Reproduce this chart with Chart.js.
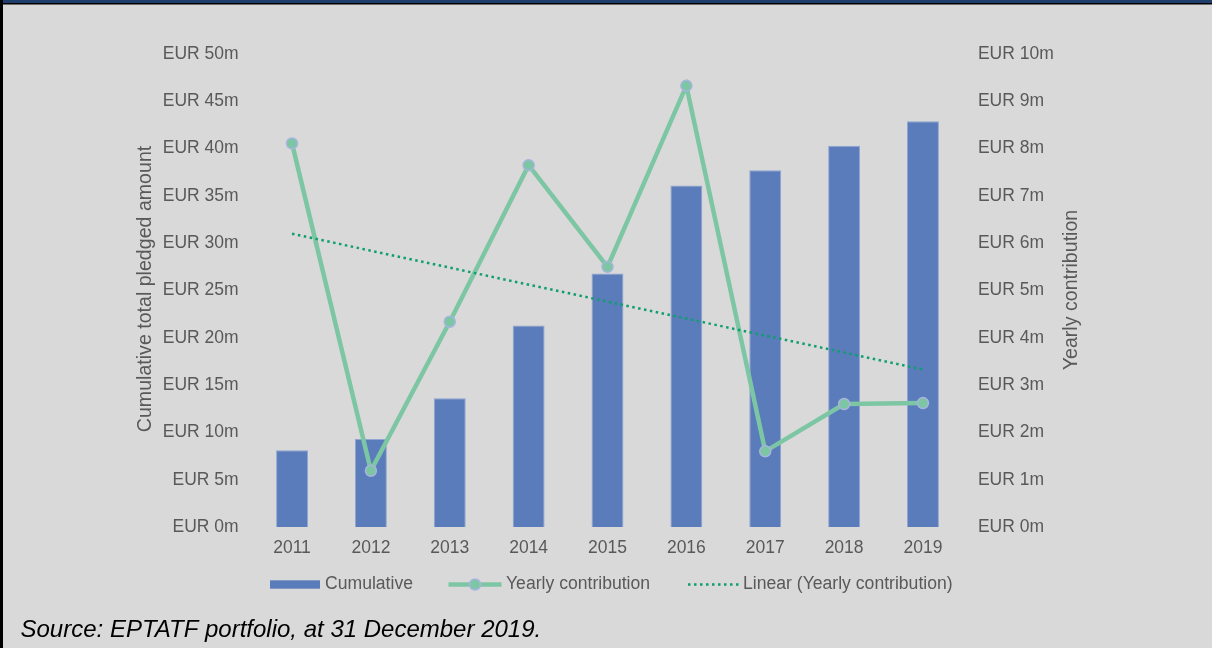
<!DOCTYPE html>
<html>
<head>
<meta charset="utf-8">
<script src="https://cdn.jsdelivr.net/npm/chart.js@4.4.1/dist/chart.umd.min.js"></script>
<style>
  html, body { margin: 0; padding: 0; background: #d9d9d9; overflow: hidden; }
  canvas { display: block; }
</style>
</head>
<body>
<canvas id="chart" width="1212" height="648"></canvas>
<script>
// Pledges to the fund, EUR millions
const years = ['2011', '2012', '2013', '2014', '2015', '2016', '2017', '2018', '2019'];
const cumulative = [8.1, 9.3, 13.6, 21.3, 26.8, 36.1, 37.7, 40.3, 42.9];
const yearly = [8.11, 1.19, 4.34, 7.65, 5.50, 9.33, 1.60, 2.60, 2.62];
// Linear trend of the yearly series: value at the first and last year
const trendStart = 6.20;
const trendEnd = 3.33;

const leftTickValues = [0, 5, 10, 15, 20, 25, 30, 35, 40, 45, 50];
const rightTickValues = [0, 1, 2, 3, 4, 5, 6, 7, 8, 9, 10];

const trend = years.map((_, i) => i === 0 ? trendStart : (i === years.length - 1 ? trendEnd : null));

const FONT = "'Liberation Sans', Arial, sans-serif";
const GREY = '#595959';
const BAR = '#5b7cba';
const BAR_EDGE = '#8fa5d4';
const LINE = '#7dc6a4';
const POINT_EDGE = '#a8b3df';
const TREND = '#0f9e6e';

const fmt = v => 'EUR ' + v + 'm';

const decor = {
  id: 'decor',
  beforeDraw(chart) {
    const ctx = chart.ctx;
    ctx.save();
    ctx.fillStyle = '#d9d9d9';
    ctx.fillRect(0, 0, chart.width, chart.height);
    ctx.restore();
  },
  afterDraw(chart) {
    const ctx = chart.ctx;
    ctx.save();

    // frame
    ctx.fillStyle = '#1f3e6c';
    ctx.fillRect(0, 0, chart.width, 3);
    ctx.fillStyle = '#000';
    ctx.fillRect(0, 3, chart.width, 1.5);
    ctx.fillRect(0, 0, 3, chart.height);

    // axis titles (both read bottom to top)
    ctx.fillStyle = GREY;
    ctx.font = '19.6px ' + FONT;
    ctx.textAlign = 'center';
    ctx.textBaseline = 'middle';
    ctx.save();
    ctx.translate(146, 289);
    ctx.rotate(-Math.PI / 2);
    ctx.fillText('Cumulative total pledged amount', 0, 0);
    ctx.restore();
    ctx.save();
    ctx.translate(1072, 290);
    ctx.rotate(-Math.PI / 2);
    ctx.fillText('Yearly contribution', 0, 0);
    ctx.restore();

    // legend
    const ly = 584.5;
    ctx.font = '17.6px ' + FONT;
    ctx.textAlign = 'left';
    ctx.textBaseline = 'middle';

    ctx.fillStyle = BAR;
    ctx.fillRect(270, ly - 4.2, 50, 8.4);
    ctx.fillStyle = GREY;
    ctx.fillText('Cumulative', 325, ly);

    ctx.strokeStyle = LINE;
    ctx.lineWidth = 4.5;
    ctx.beginPath();
    ctx.moveTo(448.5, ly);
    ctx.lineTo(501.5, ly);
    ctx.stroke();
    ctx.beginPath();
    ctx.arc(475, ly, 5.5, 0, Math.PI * 2);
    ctx.fillStyle = LINE;
    ctx.fill();
    ctx.lineWidth = 1.5;
    ctx.strokeStyle = POINT_EDGE;
    ctx.stroke();
    ctx.fillStyle = GREY;
    ctx.fillText('Yearly contribution', 506, ly);

    ctx.strokeStyle = TREND;
    ctx.lineWidth = 2.5;
    ctx.setLineDash([2.5, 3.5]);
    ctx.beginPath();
    ctx.moveTo(688, ly);
    ctx.lineTo(739, ly);
    ctx.stroke();
    ctx.setLineDash([]);
    ctx.fillStyle = GREY;
    ctx.fillText('Linear (Yearly contribution)', 743, ly);

    // source note
    ctx.fillStyle = '#000';
    ctx.font = 'italic 24px ' + FONT;
    ctx.textBaseline = 'alphabetic';
    ctx.fillText('Source: EPTATF portfolio, at 31 December 2019.', 20.5, 637);

    ctx.restore();
  }
};

new Chart(document.getElementById('chart'), {
  data: {
    labels: years,
    datasets: [
      {
        type: 'line',
        label: 'Linear (Yearly contribution)',
        data: trend,
        yAxisID: 'y1',
        spanGaps: true,
        borderColor: TREND,
        borderWidth: 2.5,
        borderDash: [2.5, 3.5],
        pointRadius: 0,
        fill: false,
        order: 0
      },
      {
        type: 'line',
        label: 'Yearly contribution',
        data: yearly,
        yAxisID: 'y1',
        borderColor: LINE,
        borderWidth: 4.5,
        pointRadius: 5.5,
        pointHoverRadius: 5.5,
        pointBackgroundColor: LINE,
        pointBorderColor: POINT_EDGE,
        pointBorderWidth: 1.5,
        tension: 0,
        fill: false,
        order: 1
      },
      {
        type: 'bar',
        label: 'Cumulative',
        data: cumulative,
        yAxisID: 'y',
        backgroundColor: BAR,
        borderColor: BAR_EDGE,
        borderWidth: 1,
        barPercentage: 0.405,
        categoryPercentage: 1,
        order: 2
      }
    ]
  },
  options: {
    responsive: false,
    animation: false,
    devicePixelRatio: 1,
    layout: { padding: { top: 54, left: 0, right: 0, bottom: 0 } },
    plugins: {
      legend: { display: false },
      tooltip: { enabled: false },
      title: { display: false }
    },
    scales: {
      x: {
        type: 'category',
        offset: true,
        grid: { display: false, drawTicks: false },
        border: { display: false },
        ticks: { color: GREY, font: { family: FONT, size: 17.5 }, padding: 11, maxRotation: 0 },
        afterFit(scale) { scale.height = 121; }
      },
      y: {
        type: 'linear',
        position: 'left',
        min: 0,
        max: 50,
        grid: { display: false, drawTicks: false },
        border: { display: false },
        afterBuildTicks(scale) { scale.ticks = leftTickValues.map(v => ({ value: v })); },
        ticks: { color: GREY, font: { family: FONT, size: 17.5 }, padding: 14, callback: fmt },
        afterFit(scale) { scale.width = 252.6; }
      },
      y1: {
        type: 'linear',
        position: 'right',
        min: 0,
        max: 10,
        grid: { display: false, drawTicks: false },
        border: { display: false },
        afterBuildTicks(scale) { scale.ticks = rightTickValues.map(v => ({ value: v })); },
        ticks: { color: GREY, font: { family: FONT, size: 17.5 }, padding: 15.5, callback: fmt },
        afterFit(scale) { scale.width = 249.6; }
      }
    }
  },
  plugins: [decor]
});
</script>
</body>
</html>
